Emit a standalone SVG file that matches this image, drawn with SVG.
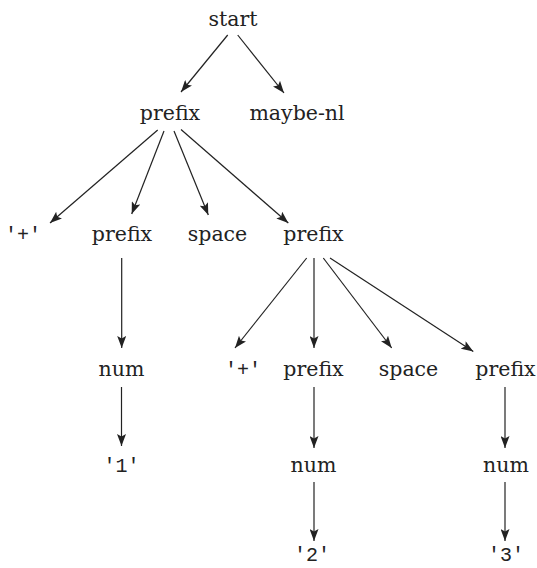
<svg xmlns="http://www.w3.org/2000/svg" width="537" height="568" viewBox="0 0 537 568">
<defs>
<style>
.t{font-family:"DejaVu Serif","Liberation Serif",serif;font-size:20.5px;fill:#222;text-anchor:middle}
.m{font-family:"Liberation Mono","DejaVu Sans Mono",monospace;font-size:20px;fill:#222;text-anchor:middle}
.e line{stroke:#222;stroke-width:1.2;fill:none;marker-end:url(#ah)}
</style>
<marker id="ah" viewBox="0 0 12 9" refX="12" refY="4.5" markerWidth="12" markerHeight="9" markerUnits="userSpaceOnUse" orient="auto">
<path d="M0,0 L12,4.5 L0,9 L2.5,4.5 z" fill="#222"/>
</marker>
</defs>
<rect width="537" height="568" fill="#fff"/>
<g id="edges" class="e">
<line x1="227.7" y1="35" x2="181" y2="92"/>
<line x1="237.7" y1="35" x2="284" y2="93"/>
<line x1="157.7" y1="130" x2="50" y2="223"/>
<line x1="164" y1="131" x2="131.7" y2="214"/>
<line x1="174" y1="131" x2="208.3" y2="215"/>
<line x1="181" y1="129.5" x2="288.3" y2="223"/>
<line x1="121.7" y1="258" x2="121.7" y2="348"/>
<line x1="121.5" y1="387" x2="121.5" y2="446"/>
<line x1="306.7" y1="258" x2="235" y2="348"/>
<line x1="314" y1="258" x2="314" y2="348"/>
<line x1="323.3" y1="258" x2="391.7" y2="348"/>
<line x1="330" y1="258" x2="473.3" y2="351.5"/>
<line x1="314" y1="387" x2="314" y2="448"/>
<line x1="314" y1="482" x2="314" y2="541"/>
<line x1="505" y1="387" x2="505" y2="448"/>
<line x1="505" y1="482" x2="505" y2="541"/>
</g>
<g id="n-start"><text class="t" x="233" y="26">start</text></g>
<g id="n-prefix1"><text class="t" x="170" y="120">prefix</text></g>
<g id="n-maybenl"><text class="t" x="297" y="120">maybe-nl</text></g>
<g id="n-plus1"><text class="m" x="23" y="241">'+'</text></g>
<g id="n-prefix2a"><text class="t" x="122" y="241">prefix</text></g>
<g id="n-space1"><text class="t" x="217.5" y="241">space</text></g>
<g id="n-prefix2b"><text class="t" x="313.5" y="241">prefix</text></g>
<g id="n-num1"><text class="t" x="121.5" y="376">num</text></g>
<g id="n-plus2"><text class="m" x="243" y="376">'+'</text></g>
<g id="n-prefix3a"><text class="t" x="313.5" y="376">prefix</text></g>
<g id="n-space2"><text class="t" x="408.5" y="376">space</text></g>
<g id="n-prefix3b"><text class="t" x="505.5" y="376">prefix</text></g>
<g id="n-one"><text class="m" x="121.5" y="472">'1'</text></g>
<g id="n-num2"><text class="t" x="313.5" y="472">num</text></g>
<g id="n-num3"><text class="t" x="506" y="472">num</text></g>
<g id="n-two"><text class="m" x="312" y="561">'2'</text></g>
<g id="n-three"><text class="m" x="506" y="561">'3'</text></g>
</svg>
